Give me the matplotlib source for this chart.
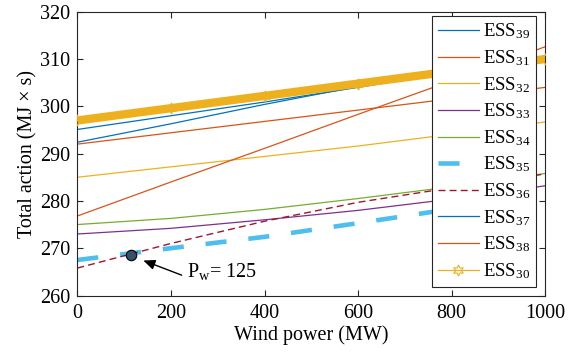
import matplotlib
matplotlib.use("Agg")
import matplotlib.pyplot as plt

plt.rcParams['font.family'] = ['Liberation Serif', 'DejaVu Serif']
plt.rcParams['mathtext.fontset'] = 'custom'
plt.rcParams['mathtext.rm'] = 'Liberation Serif'
plt.rcParams['mathtext.it'] = 'Liberation Serif:italic'

# ---- data ----
wind = [0, 200, 400, 600, 800, 1000]
ess39 = [295.1, 298.0, 300.9, 304.0, 307.2, 310.0]
ess31 = [292.0, 294.4, 296.8, 299.2, 301.6, 304.0]
ess32 = [285.0, 287.2, 289.4, 291.6, 294.1, 296.7]
ess33 = [273.0, 274.2, 276.0, 278.0, 280.4, 283.2]
ess34 = [275.0, 276.3, 278.2, 280.5, 283.0, 285.8]
ess35 = [267.5, 270.0, 272.4, 275.3, 278.3, 281.5]
ess36 = [265.8, 271.0, 275.7, 279.7, 282.8, 285.7]
ess37 = [292.4, 296.3, 300.4, 304.2, 307.2, 310.0]
ess38 = [276.8, 284.0, 291.1, 298.3, 305.4, 312.6]
ess30 = [297.0, 299.6, 302.2, 304.8, 307.4, 310.0]

point_x, point_y = 115, 268.6
arrow_tip = (141, 267.4)
arrow_tail = (223, 264.3)
label_pos = (234, 265.0)

xticks = [0, 200, 400, 600, 800, 1000]
yticks = [260, 270, 280, 290, 300, 310, 320]

C_BLUE = '#0072BD'
C_ORANGE = '#D95319'
C_YELLOW = '#EDB120'
C_PURPLE = '#7E2F8E'
C_GREEN = '#77AC30'
C_LBLUE = '#4DBEEE'
C_RED = '#A2142F'

fig = plt.figure(figsize=(5.84, 3.52), dpi=100)
ax = fig.add_axes([0.1324, 0.1605, 0.8013, 0.8063])

lw = 0.9
ax.plot(wind, ess39, color=C_BLUE, lw=lw, label='ESS$_{39}$')
ax.plot(wind, ess31, color=C_ORANGE, lw=lw, label='ESS$_{31}$')
ax.plot(wind, ess32, color=C_YELLOW, lw=lw, label='ESS$_{32}$')
ax.plot(wind, ess33, color=C_PURPLE, lw=lw, label='ESS$_{33}$')
ax.plot(wind, ess34, color=C_GREEN, lw=lw, label='ESS$_{34}$')
ax.plot(wind, ess35, color=C_LBLUE, lw=3.3, linestyle=(0, (4.6, 4.8)),
        dash_capstyle='butt', label='ESS$_{35}$')
ax.plot(wind, ess36, color=C_RED, lw=1.0, linestyle=(0, (5, 3)),
        label='ESS$_{36}$')
ax.plot(wind, ess37, color=C_BLUE, lw=lw, label='ESS$_{37}$')
ax.plot(wind, ess38, color=C_ORANGE, lw=lw, label='ESS$_{38}$')
# dense hexagram band of ESS30
ax.plot(wind, ess30, color=C_YELLOW, lw=6.0, solid_capstyle='butt',
        label='_nolegend_', zorder=3)
ax.plot(wind, ess30, color=C_YELLOW, lw=lw, marker=(6, 1, 0), markersize=8,
        markerfacecolor='none', markeredgecolor=C_YELLOW, markeredgewidth=0.8,
        label='ESS$_{30}$', zorder=3)

ax.plot([point_x], [point_y], 'o', markersize=7.5, markerfacecolor='#34506b',
        markeredgecolor='black', markeredgewidth=0.8, zorder=5)
ax.annotate('', xy=arrow_tip, xytext=arrow_tail,
            arrowprops=dict(arrowstyle='-|>,head_length=0.7,head_width=0.3',
                            color='black', lw=1.0, shrinkA=0, shrinkB=0))
ax.text(label_pos[0], label_pos[1], 'P$_\\mathrm{w}$= 125', fontsize=14.5,
        ha='left', va='center')

ax.set_xlim(0, 1000)
ax.set_ylim(260, 320)
ax.set_xticks(xticks)
ax.set_yticks(yticks)
ax.tick_params(direction='in', top=True, right=True, length=4, width=0.8,
               labelsize=14.5, colors='#262626', labelcolor='black')
ax.tick_params(axis='x', pad=6)
ax.tick_params(axis='y', pad=5)
for s in ax.spines.values():
    s.set_color('#262626')
    s.set_linewidth(0.8)

ax.set_xlabel('Wind power (MW)', fontsize=14.5, labelpad=2)
ax.set_ylabel('Total action (MJ \u00d7 s)', fontsize=14.5, labelpad=2)

leg = ax.legend(loc='upper right', bbox_to_anchor=(0.980, 0.985),
                fontsize=13.5, fancybox=False, framealpha=1,
                edgecolor='#262626', handlelength=2.2, handletextpad=0.2,
                labelspacing=0.37, borderpad=0.3, borderaxespad=0)
leg.get_frame().set_linewidth(0.8)

fig.savefig('out.png', dpi=100)
